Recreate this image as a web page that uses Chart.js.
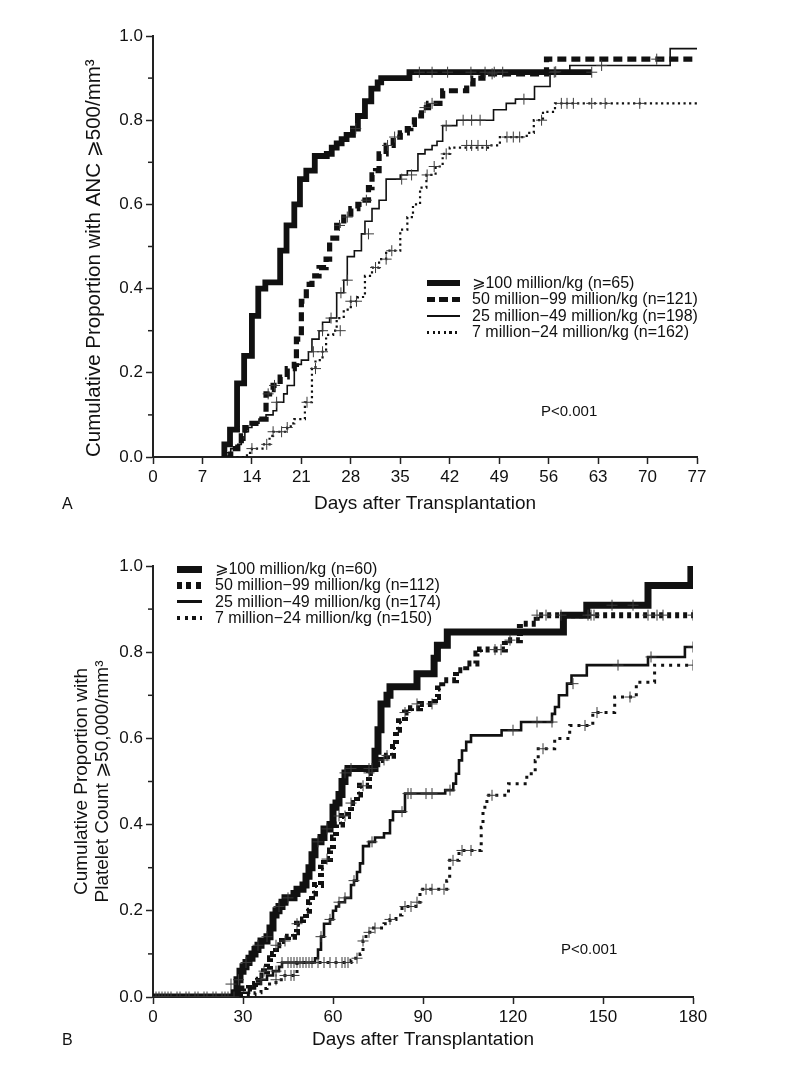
<!DOCTYPE html>
<html><head><meta charset="utf-8"><title>Engraftment by CD34+ cell dose</title>
<script src="https://cdn.jsdelivr.net/npm/chart.js@4.4.1/dist/chart.umd.min.js"></script>
<style>
html,body{margin:0;padding:0;background:#fff;}
body{width:805px;height:1068px;position:relative;overflow:hidden;font-family:"Liberation Sans",Arial,"DejaVu Sans",sans-serif;color:#111;}
.panel{position:absolute;left:0;width:805px;}
#panelA{top:0;height:530px;}
#panelB{top:530px;height:538px;}
.txt{position:absolute;white-space:nowrap;}
.legend{position:absolute;font-size:16px;white-space:nowrap;}
.legend .row{display:flex;align-items:center;}
.legend .sw{flex:none;display:inline-block;}
</style></head>
<body>
<div class="panel" id="panelA"><canvas id="chartA" width="805" height="530"></canvas></div>
<div class="panel" id="panelB"><canvas id="chartB" width="805" height="538"></canvas></div>
<div class="txt" id="letterA" style="left:62px;top:496px;font-size:16px;line-height:16px;"></div>
<div class="txt" id="letterB" style="left:62px;top:1032px;font-size:16px;line-height:16px;"></div>
<div class="txt" id="pA" style="left:541px;top:403px;font-size:15px;line-height:15px;"></div>
<div class="txt" id="pB" style="left:561px;top:941px;font-size:15px;line-height:15px;"></div>
<div class="legend" id="legendA" style="left:427px;top:275px;"></div>
<div class="legend" id="legendB" style="left:177px;top:561px;"></div>
<script>
// ---------------- text ----------------
const panelLetters = ['A', 'B'];
const pValueText = 'P<0.001';
const xTitle = 'Days after Transplantation';
const yTitleA = 'Cumulative Proportion with ANC ⩾500/mm³';
const yTitleB = ['Cumulative Proportion with', 'Platelet Count ⩾50,000/mm³'];
const seriesLabelsA = ['⩾100 million/kg (n=65)', '50 million−99 million/kg (n=121)', '25 million−49 million/kg (n=198)', '7 million−24 million/kg (n=162)'];
const seriesLabelsB = ['⩾100 million/kg (n=60)', '50 million−99 million/kg (n=112)', '25 million−49 million/kg (n=174)', '7 million−24 million/kg (n=150)'];

// ---------------- axes ----------------
const xMaxA = 77, xStepA = 7;
const xMaxB = 180, xStepB = 30;
const yMax = 1.0, yStep = 0.2;
const minorTickValues = [0.1, 0.3, 0.5, 0.7, 0.9];

// ---------------- Panel A: ANC >= 500 ----------------
const A100_days = [10, 10.1, 10.9, 11.9, 12.9, 14.0, 14.9, 15.9, 18.0, 18.9, 20.0, 20.8, 21.7, 22.9, 24.6, 25.3, 26.0, 26.7, 27.4, 28.3, 29.0, 30.0, 30.9, 31.8, 32.3, 36.3, 62.1];
const A100_prop = [0, 0.03, 0.065, 0.175, 0.24, 0.335, 0.40, 0.415, 0.49, 0.55, 0.60, 0.66, 0.68, 0.715, 0.72, 0.735, 0.745, 0.755, 0.765, 0.78, 0.81, 0.845, 0.875, 0.89, 0.90, 0.914, 0.914];
const A50_days = [10.5, 11, 12, 12.5, 13, 14, 15, 16, 16.5, 17, 18, 19, 20, 20.3, 21, 21.7, 22.5, 23.5, 24.5, 25, 26, 27, 28, 29, 30, 30.5, 31, 31.5, 32, 33, 34, 35, 36, 36.5, 37, 38, 39, 41, 44.4, 45.3, 46.7, 55.7, 77];
const A50_prop = [0, 0.02, 0.03, 0.05, 0.07, 0.08, 0.09, 0.15, 0.16, 0.17, 0.19, 0.21, 0.22, 0.28, 0.37, 0.41, 0.43, 0.45, 0.47, 0.52, 0.55, 0.57, 0.59, 0.60, 0.61, 0.64, 0.67, 0.68, 0.72, 0.74, 0.76, 0.77, 0.78, 0.79, 0.81, 0.83, 0.84, 0.87, 0.886, 0.90, 0.91, 0.945, 0.945];
const A25_days = [10, 10.2, 11, 12, 12.5, 13, 13.5, 14, 15, 16, 17, 17.5, 18.5, 19, 20, 21, 22, 22.5, 23.5, 24, 25, 26, 27, 27.5, 28.5, 29.5, 30, 31, 32, 33, 35, 36, 37.5, 38.5, 39.5, 40.2, 41, 43, 48.2, 50, 51.3, 54, 56.2, 59, 73.2, 77];
const A25_prop = [0, 0.01, 0.02, 0.03, 0.04, 0.06, 0.07, 0.08, 0.09, 0.10, 0.11, 0.13, 0.15, 0.17, 0.22, 0.23, 0.25, 0.28, 0.30, 0.32, 0.33, 0.39, 0.42, 0.476, 0.49, 0.53, 0.56, 0.59, 0.61, 0.66, 0.67, 0.68, 0.72, 0.73, 0.74, 0.75, 0.787, 0.80, 0.825, 0.84, 0.85, 0.88, 0.915, 0.93, 0.97, 0.97];
const A7_days = [11, 13.3, 14, 15.5, 16.5, 17, 19, 19.5, 20, 21.5, 22.5, 23, 24, 24.5, 25.5, 26, 27, 28, 29, 30, 31, 32, 33, 35, 36, 36.8, 37.8, 38.7, 40, 41, 42, 47.7, 49.1, 52.9, 53.9, 55.2, 56.9, 77];
const A7_prop = [0, 0.01, 0.02, 0.03, 0.05, 0.06, 0.07, 0.08, 0.09, 0.13, 0.21, 0.23, 0.25, 0.29, 0.30, 0.33, 0.35, 0.37, 0.38, 0.43, 0.45, 0.47, 0.49, 0.54, 0.57, 0.60, 0.64, 0.67, 0.69, 0.72, 0.735, 0.74, 0.76, 0.77, 0.80, 0.82, 0.84, 0.84];
// censored observations (+)
const A100_cDays = [28.7, 37.7, 39.5, 41.7, 45, 47, 48.3, 49.5, 56.8, 62.1];
const A100_cProp = [0.78, 0.914, 0.914, 0.914, 0.914, 0.914, 0.914, 0.914, 0.914, 0.914];
const A50_cDays = [16.3, 17.2, 26.4, 27.5, 30.2, 33.2, 34.2, 38.5, 39.5, 48, 71.3];
const A50_cProp = [0.15, 0.17, 0.55, 0.57, 0.61, 0.74, 0.76, 0.83, 0.84, 0.91, 0.945];
const A25_cDays = [17.5, 22.7, 24, 25.2, 26.6, 27.5, 30.5, 35.2, 36.6, 41.5, 43.9, 45.1, 46.3, 52.5, 57, 63.5];
const A25_cProp = [0.13, 0.25, 0.30, 0.33, 0.39, 0.42, 0.53, 0.66, 0.67, 0.787, 0.80, 0.80, 0.80, 0.85, 0.915, 0.93];
const A7_cDays = [14, 16.1, 17, 18.2, 19, 21.8, 23, 24, 26.5, 28, 28.8, 31.5, 33, 33.8, 38.8, 39.8, 41.5, 44.4, 45.1, 46, 47.2, 50.1, 51, 51.9, 55, 57.8, 58.6, 59.5, 62.1, 64, 68.9];
const A7_cProp = [0.02, 0.03, 0.06, 0.06, 0.07, 0.13, 0.21, 0.25, 0.30, 0.37, 0.37, 0.45, 0.47, 0.49, 0.67, 0.69, 0.72, 0.74, 0.74, 0.74, 0.74, 0.76, 0.76, 0.76, 0.80, 0.84, 0.84, 0.84, 0.84, 0.84, 0.84];

// ---------------- Panel B: platelets >= 50,000 ----------------
const B100_days = [0, 27, 28, 29, 30, 31, 32, 33, 34, 35, 36, 38, 39, 40, 41, 42, 43, 44, 47, 48, 50, 51, 52, 53, 54, 56, 57, 59, 60, 61, 62, 63, 64, 65, 74, 75, 76, 78, 79, 88, 93.7, 94.8, 98.1, 136.8, 144.6, 165, 179.3];
const B100_prop = [0, 0.01, 0.04, 0.06, 0.07, 0.08, 0.09, 0.10, 0.11, 0.12, 0.13, 0.14, 0.16, 0.19, 0.20, 0.21, 0.22, 0.23, 0.24, 0.25, 0.26, 0.28, 0.30, 0.33, 0.36, 0.37, 0.39, 0.40, 0.44, 0.45, 0.47, 0.50, 0.52, 0.53, 0.57, 0.62, 0.68, 0.70, 0.72, 0.75, 0.786, 0.816, 0.847, 0.886, 0.909, 0.955, 1.0];
const B50_days = [0, 29, 30, 32, 34, 35, 37, 38, 39, 40, 41, 43, 45, 47, 48, 50, 51, 52, 53, 54, 56, 57, 59, 60, 61, 63, 65, 66, 68, 69, 72, 74, 76, 78, 80, 81, 82, 84, 86, 89, 94, 95, 96.4, 101, 104.4, 107.8, 109, 117.3, 122.3, 127.9, 180];
const B50_prop = [0, 0.01, 0.02, 0.03, 0.04, 0.05, 0.06, 0.07, 0.09, 0.10, 0.12, 0.13, 0.14, 0.15, 0.17, 0.18, 0.20, 0.22, 0.24, 0.26, 0.30, 0.32, 0.34, 0.37, 0.40, 0.42, 0.43, 0.45, 0.47, 0.49, 0.52, 0.54, 0.55, 0.56, 0.58, 0.62, 0.64, 0.66, 0.67, 0.68, 0.696, 0.716, 0.735, 0.758, 0.774, 0.797, 0.806, 0.828, 0.866, 0.886, 0.886];
const B25_days = [0, 29, 32, 34, 36, 38, 40, 42, 43, 54, 55, 56, 57, 59, 60, 61, 62, 64, 66, 67, 68, 69, 70, 72, 74, 77, 79, 80, 84, 97.4, 100.1, 101, 102, 103, 104.4, 106, 116.2, 122.7, 133, 134, 135.3, 138, 139.5, 144.6, 165, 177.3, 180];
const B25_prop = [0, 0.01, 0.02, 0.03, 0.04, 0.05, 0.06, 0.07, 0.08, 0.09, 0.11, 0.14, 0.17, 0.18, 0.20, 0.21, 0.22, 0.23, 0.26, 0.27, 0.29, 0.31, 0.35, 0.36, 0.37, 0.38, 0.41, 0.43, 0.472, 0.48, 0.495, 0.518, 0.549, 0.572, 0.592, 0.607, 0.619, 0.638, 0.657, 0.673, 0.70, 0.727, 0.746, 0.77, 0.789, 0.812, 0.812];
const B7_days = [0, 30, 34, 36, 38, 41, 44, 48, 66, 67, 69, 70, 71, 73, 77, 79, 81, 83, 87.6, 89, 97.9, 98.9, 102, 109.4, 110, 111.3, 118.5, 124.6, 127.4, 128.4, 133.9, 138.9, 146.6, 153.9, 161.1, 167.2, 180];
const B7_prop = [0, 0.005, 0.01, 0.02, 0.03, 0.04, 0.05, 0.08, 0.085, 0.09, 0.10, 0.13, 0.15, 0.16, 0.17, 0.18, 0.19, 0.21, 0.22, 0.25, 0.27, 0.317, 0.34, 0.394, 0.44, 0.468, 0.495, 0.518, 0.549, 0.576, 0.60, 0.63, 0.66, 0.696, 0.73, 0.77, 0.77];
// censored observations (+)
const B100_cDays = [26, 28.5, 31, 35, 38, 42, 45, 55, 58, 64, 66, 72, 73, 153, 160];
const B100_cProp = [0.03, 0.04, 0.08, 0.12, 0.14, 0.21, 0.23, 0.36, 0.39, 0.52, 0.53, 0.53, 0.53, 0.909, 0.909];
const B50_cDays = [37, 41, 44, 48, 58, 62, 64, 66, 70, 72, 77, 78, 84, 88, 93, 114, 116, 119, 128, 131, 136, 145, 146, 147, 165, 168, 170, 180];
const B50_cProp = [0.06, 0.12, 0.13, 0.17, 0.32, 0.42, 0.42, 0.45, 0.49, 0.52, 0.55, 0.56, 0.66, 0.68, 0.68, 0.806, 0.806, 0.828, 0.886, 0.886, 0.886, 0.886, 0.886, 0.886, 0.886, 0.886, 0.886, 0.886];
const B25_cDays = [2, 4, 6, 9, 12, 15, 18, 21, 24, 36, 41, 43, 45, 46, 47, 48, 49, 50, 51, 52, 53, 56, 59, 62, 64, 67, 73, 83, 85, 86, 91, 93, 99, 120, 128, 133, 140, 155, 166, 180];
const B25_cProp = [0, 0, 0, 0, 0, 0, 0, 0, 0, 0.04, 0.06, 0.08, 0.08, 0.08, 0.08, 0.08, 0.08, 0.08, 0.08, 0.08, 0.08, 0.14, 0.18, 0.22, 0.23, 0.27, 0.36, 0.43, 0.472, 0.472, 0.472, 0.472, 0.48, 0.619, 0.638, 0.638, 0.727, 0.77, 0.789, 0.812];
const B7_cDays = [1, 3, 5, 8, 11, 14, 17, 20, 23, 25, 27, 41, 44, 46, 47, 55, 57, 59, 61, 63, 64, 65, 68, 70, 72, 74, 79, 84, 86, 88, 91, 93, 97, 100, 103, 106, 113, 130, 144, 148, 159, 180];
const B7_cProp = [0, 0, 0, 0, 0, 0, 0, 0, 0, 0, 0, 0.04, 0.05, 0.05, 0.05, 0.08, 0.08, 0.08, 0.08, 0.08, 0.08, 0.08, 0.09, 0.13, 0.15, 0.16, 0.18, 0.21, 0.21, 0.22, 0.25, 0.25, 0.25, 0.317, 0.34, 0.34, 0.468, 0.576, 0.63, 0.66, 0.696, 0.77];

// ---------------- styles ----------------
const FONT = '"Liberation Sans", Arial, "DejaVu Sans", sans-serif';
const INK = '#111';
const AXIS = '#222';
const lineStylesA = [{w: 5.8}, {w: 5.2, dash: [9, 5]}, {w: 1.6}, {w: 2.2, dash: [2.2, 3.4]}];
const lineStylesB = [{w: 7}, {w: 6, dash: [4, 4]}, {w: 2.6}, {w: 3, dash: [3, 5]}];
const swatchesA = [
  {w: 33, h: 5.5, bg: INK},
  {w: 33, h: 5.5, bg: 'repeating-linear-gradient(to right,#111 0 8px,transparent 8px 12.5px)'},
  {w: 33, h: 1.6, bg: INK},
  {w: 33, h: 2.2, bg: 'repeating-linear-gradient(to right,#111 0 2.2px,transparent 2.2px 5.6px)'}
];
const swatchesB = [
  {w: 25, h: 7, bg: INK},
  {w: 25, h: 7, bg: 'repeating-linear-gradient(to right,#111 0 5px,transparent 5px 9.5px)'},
  {w: 25, h: 3, bg: INK},
  {w: 25, h: 3.5, bg: 'repeating-linear-gradient(to right,#111 0 3.5px,transparent 3.5px 7.5px)'}
];

Chart.defaults.font.family = FONT;
Chart.defaults.color = INK;

function pts(days, prop) { return days.map((d, i) => ({x: d, y: prop[i]})); }
function curve(days, prop, st, label) {
  return {label, data: pts(days, prop), stepped: true, borderColor: INK, backgroundColor: INK,
    borderWidth: st.w, borderDash: st.dash || [], borderJoinStyle: 'miter', borderCapStyle: 'butt',
    pointRadius: 0, fill: false, tension: 0, order: 2};
}
function censor(days, prop) {
  return {data: pts(days, prop), showLine: false, pointStyle: 'cross', pointRadius: 5.5,
    pointBorderWidth: 1, pointBorderColor: '#3a3a3a', pointBackgroundColor: '#3a3a3a', order: 1};
}

const minorTicks = {
  id: 'minorTicks',
  afterDraw(chart) {
    const ys = chart.scales.y, ctx = chart.ctx, x0 = chart.chartArea.left;
    ctx.save(); ctx.strokeStyle = AXIS; ctx.lineWidth = 1.5;
    minorTickValues.forEach(v => {
      const py = ys.getPixelForValue(v);
      ctx.beginPath(); ctx.moveTo(x0 - 5, py); ctx.lineTo(x0, py); ctx.stroke();
    });
    ctx.restore();
  }
};

function makeChart(id, datasets, o) {
  return new Chart(document.getElementById(id), {
    type: 'line',
    data: {datasets},
    plugins: [minorTicks],
    options: {
      responsive: false, animation: false, events: [],
      layout: {padding: {left: 0, right: o.padRight, top: 36, bottom: 0}},
      plugins: {legend: {display: false}, tooltip: {enabled: false}},
      scales: {
        x: {type: 'linear', min: 0, max: o.xMax,
          ticks: {stepSize: o.xStep, autoSkip: false, maxRotation: 0, padding: 3, color: INK, font: {size: 17}},
          grid: {display: true, drawOnChartArea: false, drawTicks: true, tickLength: 7, tickColor: AXIS, tickWidth: 1.5},
          border: {display: true, color: AXIS, width: 2},
          title: {display: true, text: xTitle, color: INK, font: {size: 19}, padding: {top: 0, bottom: o.xTitlePad}},
          afterFit(s) { s.height = o.xHeight; }
        },
        y: {type: 'linear', min: 0, max: yMax,
          ticks: {stepSize: yStep, padding: 3, color: INK, font: {size: 17}, callback: v => Number(v).toFixed(1)},
          grid: {display: true, drawOnChartArea: false, drawTicks: true, tickLength: 7, tickColor: AXIS, tickWidth: 1.5},
          border: {display: true, color: AXIS, width: 2},
          title: {display: true, text: o.yTitle, align: o.yAlign, color: INK, font: {size: o.yFont, lineHeight: o.yLH}, padding: {top: o.yTitlePad, bottom: 0}},
          afterFit(s) { s.width = 153; }
        }
      }
    }
  });
}

makeChart('chartA', [
  curve(A100_days, A100_prop, lineStylesA[0], seriesLabelsA[0]),
  curve(A50_days, A50_prop, lineStylesA[1], seriesLabelsA[1]),
  curve(A25_days, A25_prop, lineStylesA[2], seriesLabelsA[2]),
  curve(A7_days, A7_prop, lineStylesA[3], seriesLabelsA[3]),
  censor(A100_cDays, A100_cProp), censor(A50_cDays, A50_cProp),
  censor(A25_cDays, A25_cProp), censor(A7_cDays, A7_cProp)
], {xMax: xMaxA, xStep: xStepA, padRight: 108, xHeight: 73, xTitlePad: 14.5, yTitle: yTitleA, yAlign: 'start', yFont: 20.5, yLH: 1.2, yTitlePad: 82});

makeChart('chartB', [
  curve(B100_days, B100_prop, lineStylesB[0], seriesLabelsB[0]),
  curve(B50_days, B50_prop, lineStylesB[1], seriesLabelsB[1]),
  curve(B25_days, B25_prop, lineStylesB[2], seriesLabelsB[2]),
  curve(B7_days, B7_prop, lineStylesB[3], seriesLabelsB[3]),
  censor(B100_cDays, B100_cProp), censor(B50_cDays, B50_cProp),
  censor(B25_cDays, B25_cProp), censor(B7_cDays, B7_cProp)
], {xMax: xMaxB, xStep: xStepB, padRight: 112, xHeight: 71, xTitlePad: 16.5, yTitle: yTitleB, yAlign: 'center', yFont: 19, yLH: 1.08, yTitlePad: 72});

// ---------------- HTML text: legends, letters, P values ----------------
function buildLegend(id, labels, swatches, rowH, gap) {
  const el = document.getElementById(id);
  labels.forEach((lab, i) => {
    const row = document.createElement('div'); row.className = 'row';
    row.style.height = rowH + 'px'; row.style.lineHeight = rowH + 'px';
    const sw = document.createElement('span'); sw.className = 'sw';
    sw.style.width = swatches[i].w + 'px'; sw.style.height = swatches[i].h + 'px';
    sw.style.background = swatches[i].bg; sw.style.marginRight = gap + 'px';
    const t = document.createElement('span'); t.textContent = lab;
    row.appendChild(sw); row.appendChild(t); el.appendChild(row);
  });
}
buildLegend('legendA', seriesLabelsA, swatchesA, 16.45, 12);
buildLegend('legendB', seriesLabelsB, swatchesB, 16.35, 13);
document.getElementById('letterA').textContent = panelLetters[0];
document.getElementById('letterB').textContent = panelLetters[1];
document.getElementById('pA').textContent = pValueText;
document.getElementById('pB').textContent = pValueText;
</script>
</body></html>
